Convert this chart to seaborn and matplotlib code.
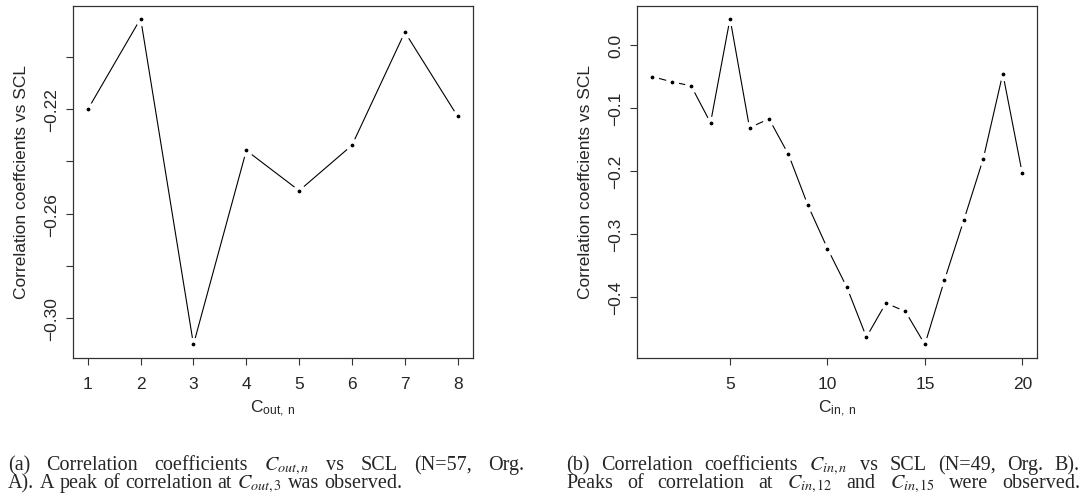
import matplotlib
matplotlib.use("Agg")
import matplotlib.pyplot as plt
import seaborn as sns
import pandas as pd

# ---- data ----
out_n = [1, 2, 3, 4, 5, 6, 7, 8]
out_corr = [-0.2201, -0.1853, -0.3101, -0.2358, -0.2512, -0.2338, -0.1905, -0.2228]

in_n = list(range(1, 21))
in_corr = [-0.0507, -0.0591, -0.0654, -0.1241, 0.0412, -0.1320, -0.1177, -0.1743,
           -0.2551, -0.3233, -0.3851, -0.4637, -0.4098, -0.4231, -0.4754, -0.3740,
           -0.2783, -0.1807, -0.0460, -0.2044]

left_yticks = [-0.30, -0.28, -0.26, -0.24, -0.22, -0.20]
left_yticklabels = ["\u22120.30", "", "\u22120.26", "", "\u22120.22", ""]
left_xticks = [1, 2, 3, 4, 5, 6, 7, 8]
right_yticks = [0.0, -0.1, -0.2, -0.3, -0.4]
right_yticklabels = ["0.0", "\u22120.1", "\u22120.2", "\u22120.3", "\u22120.4"]
right_xticks = [5, 10, 15, 20]

ylabel = "Correlation coeffcients vs SCL"
cap_a1 = r"(a) Correlation coefficients $C_{out,n}$ vs SCL (N=57, Org."
cap_a2 = r"A). A peak of correlation at $C_{out,3}$ was observed."
cap_b1 = r"(b) Correlation coefficients $C_{in,n}$ vs SCL (N=49, Org. B)."
cap_b2 = r"Peaks of correlation at $C_{in,12}$ and $C_{in,15}$ were observed."

sns.set_style("white")
plt.rcParams["font.family"] = ["Liberation Sans", "DejaVu Sans"]
plt.rcParams["mathtext.fontset"] = "stix"
plt.rcParams["axes.linewidth"] = 0.9
plt.rcParams["axes.edgecolor"] = "#333333"

W, H = 1087, 502
fig = plt.figure(figsize=(W / 100, H / 100), dpi=100)
ax1 = fig.add_axes([73 / W, 1 - 358.5 / H, 399.5 / W, 352 / H])
ax2 = fig.add_axes([637.3 / W, 1 - 358.5 / H, 399.8 / W, 352 / H])

line_kw = dict(color="black", linewidth=0.8, marker="o", markersize=6.2,
               markerfacecolor="black", markeredgecolor="white",
               markeredgewidth=3.4)

def rlim(v):
    lo, hi = min(v), max(v)
    d = (hi - lo) * 0.04
    return lo - d, hi + d

df1 = pd.DataFrame({"n": out_n, "r": out_corr})
df2 = pd.DataFrame({"n": in_n, "r": in_corr})
sns.lineplot(data=df1, x="n", y="r", ax=ax1, **line_kw)
sns.lineplot(data=df2, x="n", y="r", ax=ax2, **line_kw)

ax1.set_xlim(*rlim(out_n))
ax1.set_ylim(*rlim(out_corr))
ax2.set_xlim(*rlim(in_n))
ax2.set_ylim(*rlim(in_corr))

ax1.set_xticks(left_xticks)
ax1.set_xticklabels([str(t) for t in left_xticks])
ax1.set_yticks(left_yticks)
ax1.set_yticklabels(left_yticklabels)
ax2.set_xticks(right_xticks)
ax2.set_xticklabels([str(t) for t in right_xticks])
ax2.set_yticks(right_yticks)
ax2.set_yticklabels(right_yticklabels)

for ax, xl in ((ax1, r"$\mathregular{C_{out,\ n}}$"), (ax2, r"$\mathregular{C_{in,\ n}}$")):
    ax.tick_params(axis="both", which="both", direction="out", length=5,
                   width=0.8, color="#333333", labelsize=12.5, pad=5,
                   bottom=True, left=True)
    ax.tick_params(axis="x", pad=8)
    for lab in ax.get_yticklabels():
        lab.set_rotation(90)
        lab.set_va("center")
    ax.set_xlabel(xl, fontsize=12.5, labelpad=5)
    ax.set_ylabel(ylabel, fontsize=12.5, labelpad=11)
    for s in ax.spines.values():
        s.set_visible(True)

# ---- captions (justified lines) ----
cap_kw = dict(family=["Liberation Serif", "DejaVu Serif"], fontsize=14.5,
              va="baseline", ha="left")
renderer = fig.canvas.get_renderer()

def place_line(text, x0, y, x1=None):
    words = text.split(" ")
    objs = [fig.text(0, 1 - y / H, w, **cap_kw) for w in words]
    widths = [o.get_window_extent(renderer).width for o in objs]
    if x1 is None:
        gap = 0.27 * cap_kw["fontsize"] * 100 / 72
    else:
        gap = (x1 - x0 - sum(widths)) / (len(words) - 1)
    x = x0
    for o, w in zip(objs, widths):
        o.set_x(x / W)
        x += w + gap

place_line(cap_a1, 8, 470, 524)
place_line(cap_a2, 8, 488)
place_line(cap_b1, 566, 470, 1080)
place_line(cap_b2, 566, 488, 1080)

fig.savefig("out.png", dpi=100)
